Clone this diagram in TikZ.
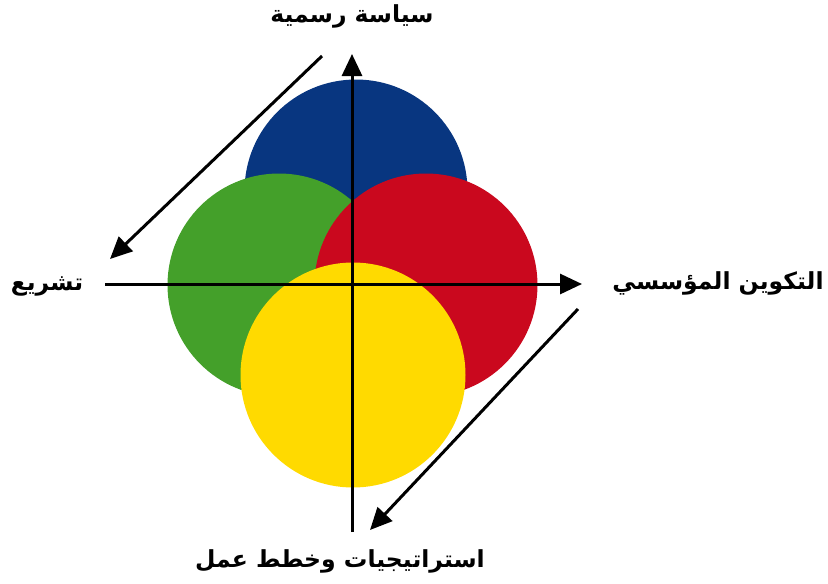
\documentclass[tikz,border=0pt]{standalone}
\usepackage{fontspec}
\newfontfamily\arabicfont[Script=Arabic]{DejaVu Sans}
\TeXXeTstate=1
\usetikzlibrary{arrows.meta}

\definecolor{dBlue}{RGB}{8,54,128}
\definecolor{dGreen}{RGB}{68,160,42}
\definecolor{dRed}{RGB}{202,8,30}
\definecolor{dYellow}{RGB}{255,218,0}

\begin{document}
\begin{tikzpicture}[
  x=1pt, y=-1pt,
  disc/.style={circle, minimum size=223pt, inner sep=0pt},
  label/.style={font=\arabicfont\bfseries\fontsize{23.5}{28}\selectfont, inner sep=0pt},
  axis/.style={-{Triangle[length=22pt,width=20pt]}, line width=3pt},
  flow/.style={-{Triangle[length=22pt,width=20pt]}, line width=3pt}
]
\useasboundingbox (0,0) rectangle (828,584);

% circles
\node[disc, fill=dBlue] (blue) at (356,191) {};
\node[disc, fill=dGreen] (green) at (279,285) {};
\node[disc, fill=dRed] (red) at (426,285) {};
\node[disc, fill=dYellow, minimum size=225pt] (yellow) at (353,375) {};

% axes
\coordinate (ax-w) at (105,284);
\coordinate (ax-e) at (582,284);
\coordinate (ax-s) at (352,532);
\coordinate (ax-n) at (352,54);
\draw[axis] (ax-w) -- (ax-e);
\draw[axis] (ax-s) -- (ax-n);

% labels
\node[label] (policy) at (352,16) {\beginR سياسة رسمية\endR};
\node[label] (law) at (47,286) {\beginR تشريع\endR};
\node[label] (inst) at (718,283) {\beginR التكوين المؤسسي\endR};
\node[label] (plans) at (340,561) {\beginR استراتيجيات وخطط عمل\endR};

% side arrows
\coordinate (d1-a) at (322,56);
\coordinate (d1-b) at (110,259);
\coordinate (d2-a) at (578,309);
\coordinate (d2-b) at (370,530);
\draw[flow] (d1-a) -- (d1-b);
\draw[flow] (d2-a) -- (d2-b);

\end{tikzpicture}
\end{document}
